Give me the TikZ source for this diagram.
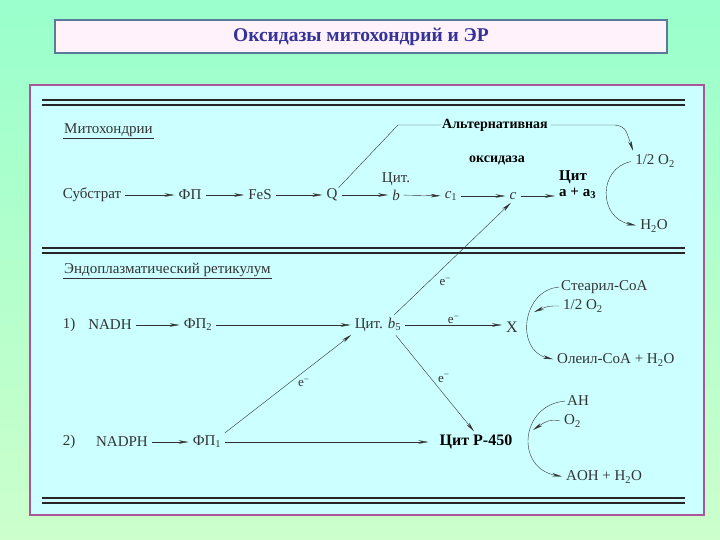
\documentclass[tikz,border=0pt]{standalone}
\usepackage{fontspec}
\setmainfont{Liberation Serif}
\usetikzlibrary{arrows.meta}
\usetikzlibrary{positioning}
\definecolor{bgtop}{HTML}{99FFCC}
\definecolor{bgbottom}{HTML}{CCFFCC}
\definecolor{panel}{HTML}{CCFFFF}
\definecolor{panelborder}{HTML}{AA5599}
\definecolor{titlefill}{HTML}{FFF2FA}
\definecolor{titleborder}{HTML}{5A7A9A}
\definecolor{titletext}{HTML}{333399}
\definecolor{scan}{HTML}{333333}
\tikzstyle{plain_text} = [text=scan, inner sep=1pt, font=\fontsize{15}{17}\selectfont]
\tikzstyle{bold_text} = [text=black, inner sep=1pt, font=\fontsize{16}{17}\selectfont\bfseries]
\tikzstyle{e_label} = [text=scan, inner sep=1pt, font=\fontsize{13}{15}\selectfont]
\tikzstyle{chain_arrow} = [draw=scan, thin, shorten >=3pt, shorten <=3pt, -{Stealth[length=10pt,width=3.5pt]}]
\tikzstyle{plain_line} = [draw=scan, thin]
\tikzstyle{rule_line} = [draw=black!85, line width=1.2pt]

\begin{document}
\begin{tikzpicture}[x=1pt, y=-1pt]

    \shade [top color=bgtop, bottom color=bgbottom] (0,0) rectangle (720,540);

    \node (title) [draw=titleborder, fill=titlefill, line width=1.2pt, minimum width=612pt, minimum height=33pt,
        text=titletext, font=\fontsize{19.5}{21}\selectfont\bfseries] at (361,36.5) {Оксидазы митохондрий и ЭР};

    \draw [draw=panelborder, fill=panel, line width=2pt] (30,85) rectangle (704,515);
    \foreach \y in {100,105,248,253,498,503}
        \draw [rule_line] (42,\y) -- (685,\y);

    % mitochondria
    \node (mito) [plain_text, anchor=west] at (63,130) {Митохондрии};
    \draw [plain_line] (mito.south west) -- (mito.south east);

    \node (substrat) [plain_text] at (92,195) {Субстрат};
    \node (fp) [plain_text] at (190,195) {ФП};
    \node (fes) [plain_text] at (260,195) {FeS};
    \node (q) [plain_text] at (332,195) {Q};
    \node (b) [plain_text] at (396,195) {\textit{b}};
    \node (cit) [plain_text, above=2pt of b] {Цит.};
    \node (c1) [plain_text] at (451,196) {\textit{c}\textsubscript{1}};
    \node (c) [plain_text] at (513,196) {\textit{c}};
    \node (citaa) [bold_text, align=left, anchor=west, font=\fontsize{15}{16}\selectfont\bfseries] at (558,185) {Цит\\a + a\textsubscript{3}};

    \draw [chain_arrow] (substrat) -- (fp);
    \draw [chain_arrow] (fp) -- (fes);
    \draw [chain_arrow] (fes) -- (q);
    \draw [chain_arrow] (q) -- (b);
    \draw [chain_arrow] (b) -- (c1);
    \draw [chain_arrow] (c1) -- (c);
    \draw [chain_arrow] (c.east) -- (c.east -| citaa.west);

    \node (alt) [bold_text, font=\fontsize{14}{16}\selectfont\bfseries] at (495,125) {Альтернативная};
    \node (oksidaza) [bold_text, font=\fontsize{14}{16}\selectfont\bfseries] at (497,160) {оксидаза};
    \node (halfo2) [plain_text] at (655,161) {1/2 O\textsubscript{2}};
    \node (h2o) [plain_text] at (654,226) {H\textsubscript{2}O};
    \coordinate (altbend) at (398,125);
    \coordinate (altturn) at (615,125);

    \draw [plain_line] (q.north east) -- (altbend) -- (alt.west);
    \draw [chain_arrow, shorten <=2pt] (alt.east) -- (altturn) .. controls (625,127) .. (halfo2.north west);
    \draw [chain_arrow] (halfo2.west) .. controls (598,168) and (598,218) .. (h2o.west);

    % endoplasmic reticulum
    \node (er) [plain_text, anchor=west] at (63,270) {Эндоплазматический ретикулум};
    \draw [plain_line] (er.south west) -- (er.south east);

    \node (num1) [plain_text] at (69,325) {1)};
    \node (nadh) [plain_text] at (110,325) {NADH};
    \node (fp2) [plain_text] at (198,325) {ФП\textsubscript{2}};
    \node (citb5) [plain_text] at (378,325) {Цит. \textit{b}\textsubscript{5}};
    \node (x) [plain_text, font=\fontsize{16}{18}\selectfont] at (512,327) {X};

    \node (num2) [plain_text] at (69,442) {2)};
    \node (nadph) [plain_text] at (122,442) {NADPH};
    \node (fp1) [plain_text] at (207,442) {ФП\textsubscript{1}};
    \node (p450) [bold_text] at (476,442) {Цит Р-450};

    \draw [chain_arrow] (nadh) -- (fp2);
    \draw [chain_arrow] (fp2) -- (citb5);
    \draw [chain_arrow] (citb5.east) -- node [e_label, above] {e\textsuperscript{−}} (citb5.east -| x.west);
    \draw [chain_arrow] ([xshift=14pt]citb5.north) -- node [e_label, pos=0.3, right=10pt] {e\textsuperscript{−}} (c.south);
    \draw [chain_arrow] (fp1.north east) -- node [e_label, pos=0.62, below=6pt] {e\textsuperscript{−}} (citb5.south west);
    \draw [chain_arrow] ([xshift=16pt]citb5.south) -- node [e_label, pos=0.45, right=6pt] {e\textsuperscript{−}} (p450.north);
    \draw [chain_arrow] (nadph) -- (fp1);
    \draw [chain_arrow, shorten >=10pt] (fp1.east) -- (fp1.east -| p450.west);

    % reactions
    \node (stearil) [plain_text, anchor=west] at (560,287) {Стеарил-CoA};
    \node (halfo2b) [plain_text, anchor=west] at (562,306) {1/2 O\textsubscript{2}};
    \node (oleil) [plain_text, anchor=west] at (556,360) {Олеил-CoA + H\textsubscript{2}O};
    \coordinate (stearil_hit) at (534,312);
    \draw [chain_arrow, shorten <=1pt] (stearil.west) .. controls (522,290) and (515,350) .. (oleil.west);
    \draw [chain_arrow, shorten >=0pt] (halfo2b.west) .. controls (548,306) .. (stearil_hit);

    \node (ah) [plain_text, anchor=west] at (566,401) {AH};
    \node (o2) [plain_text, anchor=west] at (563,421) {O\textsubscript{2}};
    \node (aoh) [plain_text, anchor=west] at (565,477) {AOH + H\textsubscript{2}O};
    \coordinate (ah_hit) at (533,430);
    \draw [chain_arrow, shorten <=1pt] (ah.west) .. controls (520,405) and (515,468) .. (aoh.west);
    \draw [chain_arrow, shorten >=0pt] (o2.west) .. controls (548,420) .. (ah_hit);

\end{tikzpicture}
\end{document}
